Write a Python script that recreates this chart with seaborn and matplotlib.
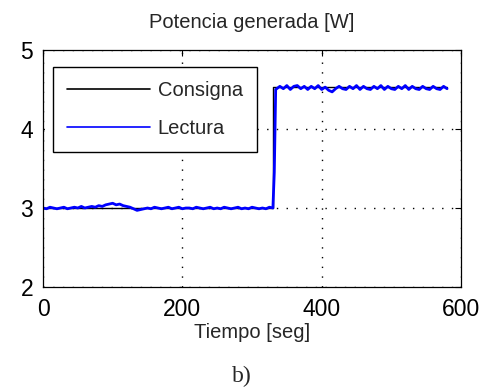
import matplotlib
matplotlib.use("Agg")
import matplotlib.pyplot as plt
import seaborn as sns
import pandas as pd

# ---- data ----
consigna_t = [0, 330.5, 330.5, 580]
consigna_v = [3.0, 3.0, 4.53, 4.53]

lectura_t = [0, 5, 10, 15, 20, 25, 30, 35, 40, 45, 50, 55, 60, 65, 70, 75, 80, 85, 90,
             95, 100, 105, 110, 115, 120, 125, 130, 135, 140, 145, 150, 155, 160, 165, 170,
             175, 180, 185, 190, 195, 200, 205, 210, 215, 220, 225, 230, 235, 240, 245, 250,
             255, 260, 265, 270, 275, 280, 285, 290, 295, 300, 305, 310, 315, 320, 325, 330,
             332, 334, 340, 345, 350, 355, 360, 365, 370, 375, 380, 385, 390, 395, 400, 405,
             410, 415, 420, 425, 430, 435, 440, 445, 450, 455, 460, 465, 470, 475, 480, 485,
             490, 495, 500, 505, 510, 515, 520, 525, 530, 535, 540, 545, 550, 555, 560, 565,
             570, 575, 580]
lectura_v = [3.00, 2.99, 3.01, 3.00, 2.99, 3.00, 3.01, 2.99, 3.00, 3.01, 3.00, 3.02, 3.00, 3.01, 3.02, 3.01, 3.03, 3.02, 3.04,
             3.05, 3.06, 3.04, 3.05, 3.03, 3.02, 3.01, 2.99, 2.97, 2.98, 2.99, 3.00, 2.99, 3.01, 3.00, 2.99,
             3.00, 3.01, 2.99, 3.00, 3.01, 2.99, 3.00, 3.00, 2.99, 3.01, 3.00, 2.99, 3.00, 3.01, 2.99, 3.00,
             2.99, 3.01, 3.00, 2.99, 3.00, 3.01, 2.99, 3.00, 2.99, 3.01, 3.00, 2.99, 3.00, 2.99, 3.01, 3.00,
             3.45, 4.50, 4.54, 4.51, 4.55, 4.50, 4.54, 4.55, 4.51, 4.54, 4.50, 4.54, 4.51, 4.55, 4.50, 4.53,
             4.49, 4.47, 4.51, 4.54, 4.51, 4.50, 4.54, 4.51, 4.55, 4.50, 4.54, 4.51, 4.50, 4.54, 4.51, 4.55,
             4.50, 4.54, 4.51, 4.50, 4.54, 4.51, 4.55, 4.50, 4.54, 4.51, 4.50, 4.54, 4.51, 4.50, 4.54, 4.51,
             4.50, 4.54, 4.51]

x_ticks = [0, 200, 400, 600]
y_ticks = [2, 3, 4, 5]
x_tick_labels = ["0", "200", "400", "600"]
y_tick_labels = ["2", "3", "4", "5"]

sns.set_style("white")
plt.rcParams['font.family'] = ['Liberation Sans', 'DejaVu Sans']

fig = plt.figure(figsize=(4.86, 3.87), dpi=100)
ax = fig.add_axes([43/486, 1-287/387, (461-43)/486, (287-50)/387])

df_c = pd.DataFrame({"t": consigna_t, "v": consigna_v})
df_l = pd.DataFrame({"t": lectura_t, "v": lectura_v})

sns.lineplot(data=df_c, x="t", y="v", ax=ax, color="black", linewidth=1.0,
             estimator=None, sort=False, label="Consigna")
sns.lineplot(data=df_l, x="t", y="v", ax=ax, color=(0, 0, 1), linewidth=2.0,
             estimator=None, sort=False, label="Lectura")

ax.set_xlim(0, 600)
ax.set_ylim(2, 5)
ax.set_xticks(x_ticks)
ax.set_yticks(y_ticks)
ax.set_xticklabels(x_tick_labels, fontsize=16.5)
ax.set_yticklabels(y_tick_labels, fontsize=16.5)
ax.tick_params(direction="in", length=4, width=0.8, top=True, right=True,
               colors="black", pad=8)
ax.tick_params(axis="y", pad=7)

for s in ax.spines.values():
    s.set_visible(True)
    s.set_color("black")
    s.set_linewidth(0.9)

ax.grid(True, color="black", linestyle=(0, (1, 6)), linewidth=1.0)

ax.set_title("Potencia generada [W]", fontsize=14.5, pad=16)
ax.set_xlabel("Tiempo [seg]", fontsize=14.5, labelpad=1)
ax.set_ylabel("")

leg = ax.legend(loc="upper left", bbox_to_anchor=(0.024, 0.928), borderaxespad=0,
                fontsize=14.5, frameon=True, fancybox=False, edgecolor="black",
                framealpha=1, handlelength=4.1, handletextpad=0.4,
                labelspacing=0.95, borderpad=0.7)
leg.get_frame().set_linewidth(1.0)
for h in leg.get_lines():
    h.set_linewidth(1.2)

fig.text(242/486, 1-376/387, "b)", ha="center", va="center", fontsize=17,
         family=['Liberation Serif', 'DejaVu Serif'])

fig.savefig("out.png", dpi=100)
